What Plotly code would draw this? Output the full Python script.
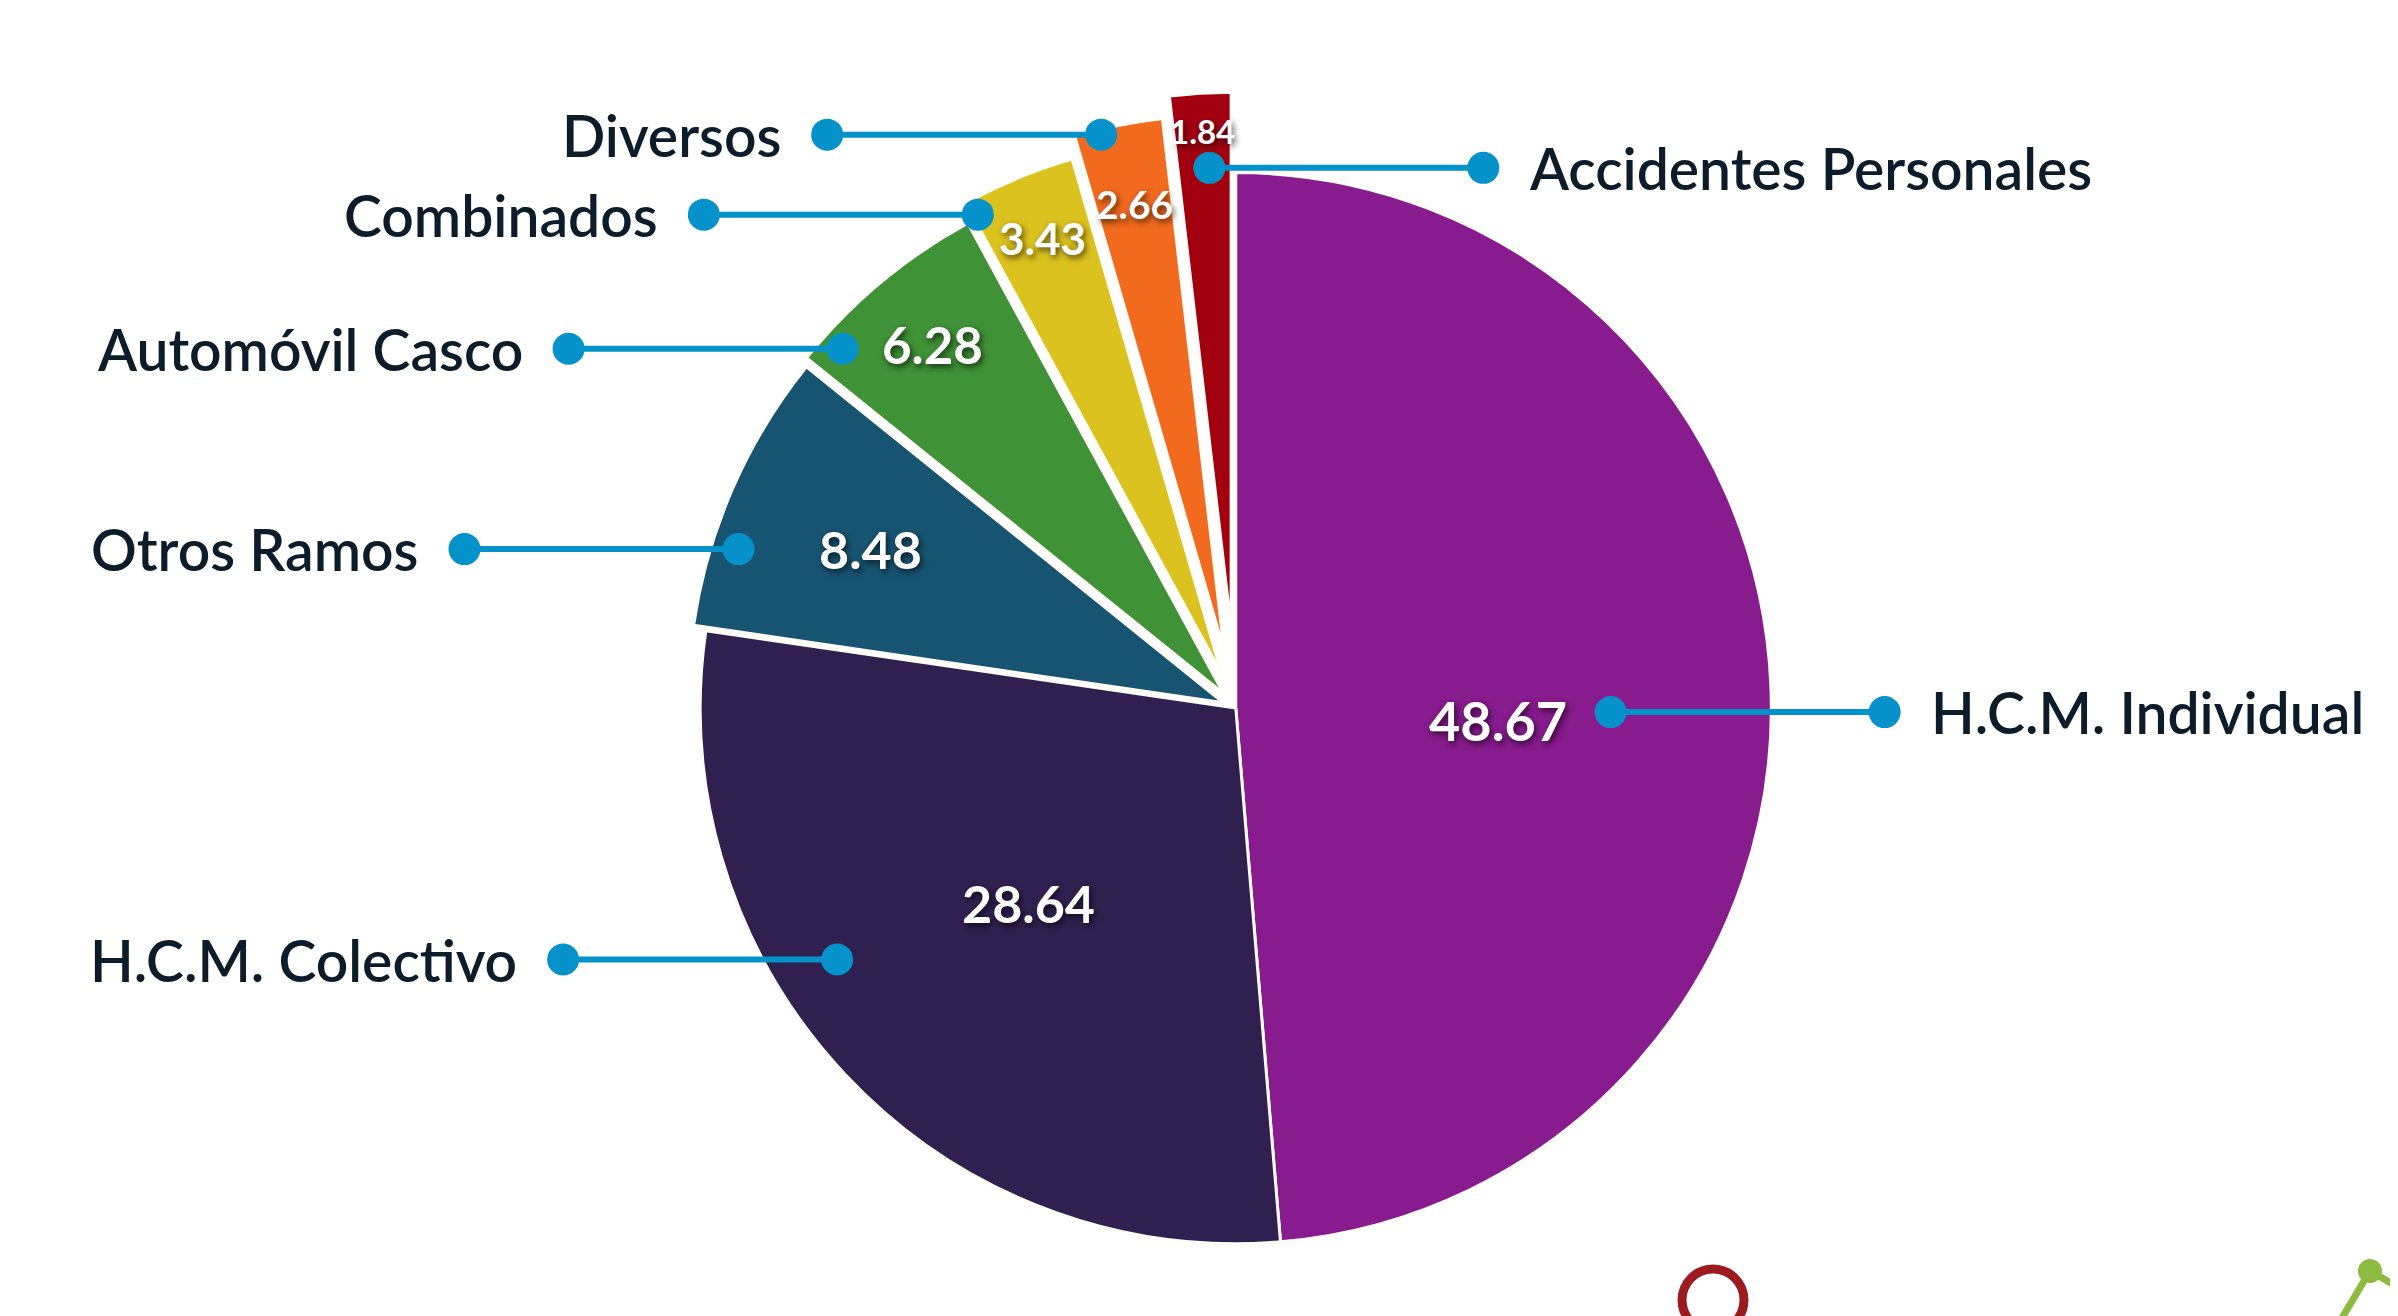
import math
import plotly.graph_objects as go

# ---------------- data ----------------
categories = ["H.C.M. Individual", "H.C.M. Colectivo", "Otros Ramos", "Automóvil Casco",
              "Combinados", "Diversos", "Accidentes Personales"]
values = [48.67, 28.64, 8.48, 6.28, 3.43, 2.66, 1.84]
value_text = ["48.67", "28.64", "8.48", "6.28", "3.43", "2.66", "1.84"]

# ---------------- style ----------------
W, H = 2398, 1316
colors = ["#881B8E", "#30204F", "#175472", "#3F9236", "#DCC21E", "#F26A1E", "#A3000F"]
pulls = [0.0, 0.0, 0.025, 0.035, 0.07, 0.11, 0.15]
DOM_X = [0.242, 0.782]
DOM_Y = [0.0, 0.936]

dot_angle_shift = [3.0, 11.0, -6.0, -8.0, -5.6, -2.0, 0.6]
dot_radius_frac = [0.70, 0.88, 0.95, 0.96, 0.97, 0.99, 0.86]
val_angle_shift = [5.0, 0, 0, 0, 0, 0, 0]
val_radius_frac = [0.49, 0.53, 0.72, 0.85, 0.88, 0.85, 0.93]
val_font_size = [54, 52, 52, 51, 44, 39, 33]
label_side = [1, -1, -1, -1, -1, -1, 1]
LEADER = 274
LABEL_GAP = 44
DOT_R = 16
BLUE = "#0591C9"
LABEL_COLOR = "#0B1D2A"
FONT = "Lato"

fig = go.Figure()
fig.add_trace(go.Pie(
    labels=categories, values=values, sort=False, direction="clockwise", rotation=0,
    pull=pulls, marker=dict(colors=colors, line=dict(color="#FFFDF8", width=3)),
    textinfo="none", hoverinfo="label+value", domain=dict(x=DOM_X, y=DOM_Y),
    showlegend=False,
))

# geometry mirroring plotly's pie layout (margins are zero)
box_w = W * (DOM_X[1] - DOM_X[0])
box_h = H * (DOM_Y[1] - DOM_Y[0])
cx = W * (DOM_X[0] + DOM_X[1]) / 2
cy = H * (1 - DOM_Y[0]) - box_h / 2
r = min(box_w, box_h) / 2 / (1 + max(pulls))
total = sum(values)


def px(x):
    return x / W


def py(y):
    return 1 - y / H


def polar(ang, rad):
    t = math.radians(ang)
    return math.sin(t) * rad, -math.cos(t) * rad


line_shapes, dot_shapes, annotations = [], [], []
cum = 0.0
for i, v in enumerate(values):
    a0 = cum / total * 360
    cum += v
    a1 = cum / total * 360
    mid = (a0 + a1) / 2
    ax, ay = polar(mid, pulls[i] * r)
    ox, oy = cx + ax, cy + ay

    # value label inside the slice
    vx, vy = polar(mid + val_angle_shift[i], val_radius_frac[i] * r)
    annotations.append(dict(
        x=px(ox + vx), y=py(oy + vy), xref="paper", yref="paper", text=value_text[i],
        showarrow=False, xanchor="center", yanchor="middle",
        font=dict(family=FONT, size=val_font_size[i], color="white", weight=700,
                  shadow="2px 3px 6px rgba(0,0,0,0.65)"),
    ))

    # leader line with dots
    dx, dy = polar(mid + dot_angle_shift[i], dot_radius_frac[i] * r)
    x_in, y_in = ox + dx, oy + dy
    x_out = x_in + label_side[i] * LEADER
    line_shapes.append(dict(type="line", xref="paper", yref="paper", layer="above",
                            x0=px(x_in), y0=py(y_in), x1=px(x_out), y1=py(y_in),
                            line=dict(color=BLUE, width=6)))
    for xx in (x_in, x_out):
        dot_shapes.append(dict(type="circle", xref="paper", yref="paper", layer="above",
                               x0=px(xx - DOT_R), x1=px(xx + DOT_R),
                               y0=py(y_in + DOT_R), y1=py(y_in - DOT_R),
                               fillcolor=BLUE, line=dict(width=0)))
    annotations.append(dict(
        x=px(x_out + label_side[i] * LABEL_GAP), y=py(y_in), xref="paper", yref="paper",
        text=categories[i], showarrow=False,
        xanchor="left" if label_side[i] > 0 else "right", yanchor="middle",
        font=dict(family=FONT, size=57, color=LABEL_COLOR, weight=600),
    ))

# decorative fragments at the bottom edge
deco = [
    dict(type="circle", xref="paper", yref="paper", layer="above",
         x0=px(1705 - 31), x1=px(1705 + 31), y0=py(1292 + 31), y1=py(1292 - 31),
         line=dict(color="#9C1B20", width=9), fillcolor="rgba(0,0,0,0)"),
    dict(type="line", xref="paper", yref="paper", layer="above",
         x0=px(2362), y0=py(1263), x1=px(2328), y1=py(1320), line=dict(color="#8CBB3F", width=7)),
    dict(type="line", xref="paper", yref="paper", layer="above",
         x0=px(2362), y0=py(1263), x1=px(2402), y1=py(1286), line=dict(color="#8CBB3F", width=7)),
    dict(type="circle", xref="paper", yref="paper", layer="above",
         x0=px(2362 - 12), x1=px(2362 + 12), y0=py(1263 + 12), y1=py(1263 - 12),
         fillcolor="#8CBB3F", line=dict(width=0)),
]

fig.update_layout(
    width=W, height=H, margin=dict(l=0, r=0, t=0, b=0),
    paper_bgcolor="white", plot_bgcolor="white", showlegend=False,
    shapes=deco + line_shapes + dot_shapes, annotations=annotations,
)

fig.write_html("out.html")
